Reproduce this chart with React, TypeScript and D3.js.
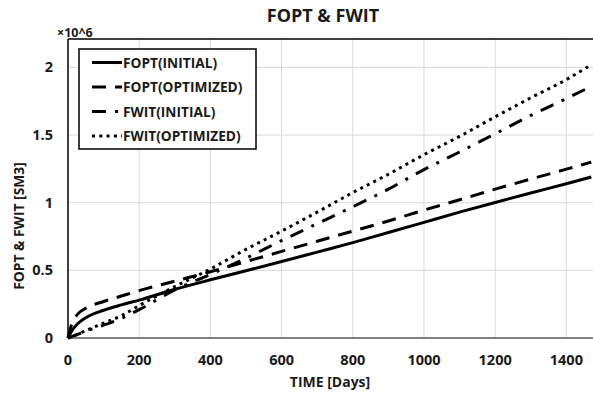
import React from "react";
import * as d3 from "d3";

const days = [0, 10, 25, 50, 100, 150, 200, 300, 400, 500, 600, 700, 800, 900, 1000, 1100, 1200, 1300, 1400, 1470];
const foptInitial = [0, 0.05, 0.1, 0.15, 0.205, 0.245, 0.28, 0.36, 0.43, 0.497, 0.565, 0.635, 0.705, 0.78, 0.855, 0.93, 1.002, 1.072, 1.14, 1.19];
const foptOptimized = [0, 0.1, 0.17, 0.22, 0.27, 0.31, 0.35, 0.42, 0.49, 0.565, 0.64, 0.715, 0.79, 0.865, 0.945, 1.022, 1.1, 1.175, 1.248, 1.3];
const fwitInitial = [0, 0.01, 0.025, 0.05, 0.095, 0.145, 0.21, 0.355, 0.47, 0.59, 0.72, 0.845, 0.97, 1.1, 1.245, 1.375, 1.51, 1.645, 1.77, 1.86];
const fwitOptimized = [0, 0.01, 0.025, 0.055, 0.11, 0.165, 0.24, 0.38, 0.51, 0.655, 0.79, 0.93, 1.075, 1.21, 1.355, 1.49, 1.635, 1.775, 1.91, 2.02];

const seriesNames = ["FOPT(INITIAL)", "FOPT(OPTIMIZED)", "FWIT(INITIAL)", "FWIT(OPTIMIZED)"];
const seriesValues = [foptInitial, foptOptimized, fwitInitial, fwitOptimized];
const xTicks = [0, 200, 400, 600, 800, 1000, 1200, 1400];
const yTicks = [0, 0.5, 1, 1.5, 2];

const dashes = ["", "14,9", "14,9,3,9", "3,4.3"];
const FONT = "'Open Sans', 'Liberation Sans', sans-serif";

export default function App() {
  const W = 593, H = 396;
  const left = 68, right = 592, top = 39, bottom = 338;
  const x = d3.scaleLinear().domain([0, 1472]).range([left, right]);
  const y = d3.scaleLinear().domain([0, 2.21]).range([bottom, top]);
  const line = d3.line<number>()
    .x((_, i) => x(days[i]))
    .y((d) => y(d))
    .curve(d3.curveMonotoneX);

  const legX = 79, legY = 49, legW = 177, legH = 100;
  const rowY = [62.5, 87, 111.5, 136];

  return (
    <svg width={W} height={H} style={{ position: "absolute", left: 0, top: 0 }} fontFamily={FONT}>
      <rect x={0} y={0} width={W} height={H} fill="#fff" />
      <text x={323} y={22} textAnchor="middle" fontSize={18} fontWeight={700} fill="#1a1a1a">FOPT &amp; FWIT</text>
      {xTicks.filter((t) => t > 0).map((t) => (
        <line key={"gx" + t} x1={x(t)} x2={x(t)} y1={top} y2={bottom} stroke="#d9d9d9" strokeWidth={1} />
      ))}
      {yTicks.filter((t) => t > 0).map((t) => (
        <line key={"gy" + t} x1={left} x2={W} y1={y(t)} y2={y(t)} stroke="#d9d9d9" strokeWidth={1} />
      ))}
      <line x1={left} x2={W} y1={top} y2={top} stroke="#000" strokeWidth={1.5} />
      <line x1={left} x2={W} y1={bottom} y2={bottom} stroke="#595959" strokeWidth={1.5} />
      <line x1={left} x2={left} y1={top} y2={bottom} stroke="#000" strokeWidth={1.5} />
      {seriesValues.map((vals, i) => (
        <path key={i} d={line(vals) || ""} fill="none" stroke="#000" strokeWidth={3} strokeDasharray={dashes[i] || undefined} />
      ))}
      {xTicks.map((t) => (
        <text key={"tx" + t} x={x(t)} y={365} textAnchor="middle" fontSize={14.5} fontWeight={700} fill="#1a1a1a">{t}</text>
      ))}
      {yTicks.map((t) => (
        <text key={"ty" + t} x={53} y={y(t) + 5} textAnchor="end" fontSize={14.5} fontWeight={700} fill="#1a1a1a">{t}</text>
      ))}
      <text x={57} y={37} fontSize={12.5} fontWeight={700} fill="#1a1a1a">×10^6</text>
      <text x={330} y={387} textAnchor="middle" fontSize={14} fontWeight={700} fill="#1a1a1a">TIME [Days]</text>
      <text transform={`translate(24,226) rotate(-90)`} textAnchor="middle" fontSize={13.8} fontWeight={700} fill="#1a1a1a">FOPT &amp; FWIT [SM3]</text>
      <rect x={legX} y={legY} width={legW} height={legH} fill="#fff" stroke="#000" strokeWidth={1.5} />
      {seriesNames.map((n, i) => (
        <g key={n}>
          <line x1={92} x2={122} y1={rowY[i]} y2={rowY[i]} stroke="#000" strokeWidth={3} strokeDasharray={dashes[i] || undefined} />
          <text x={123} y={rowY[i] + 5} fontSize={13.7} fontWeight={700} fill="#1a1a1a">{n}</text>
        </g>
      ))}
    </svg>
  );
}
